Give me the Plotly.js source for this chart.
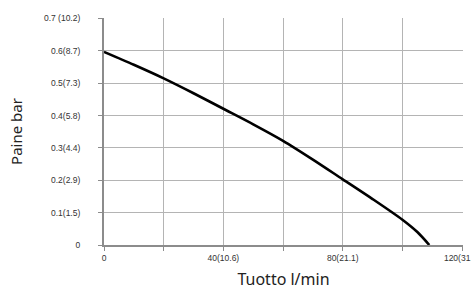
<!DOCTYPE html>
<html><head><meta charset="utf-8">
<script src="https://cdn.plot.ly/plotly-3.0.1.min.js"></script>
<style>html,body{margin:0;padding:0;background:#fff}#c{width:471px;height:291px}</style>
</head><body><div id="c"></div>
<script>
const flow = [0, 10, 20, 30, 40, 50, 60, 70, 80, 90, 100, 105, 109];
const pressure = [0.597, 0.557, 0.515, 0.469, 0.421, 0.373, 0.322, 0.264, 0.203, 0.142, 0.078, 0.04, 0];
const xTickVals = [0, 20, 40, 60, 80, 100, 120];
const xTickText = ['0', '', '40(10.6)', '', '80(21.1)', '', '120(31.7)'];
const yTickVals = [0, 0.1, 0.2, 0.3, 0.4, 0.5, 0.6, 0.7];
const yTickText = ['0', '0.1(1.5)', '0.2(2.9)', '0.3(4.4)', '0.4(5.8)', '0.5(7.3)', '0.6(8.7)', '0.7 (10.2)'];

Plotly.newPlot('c', [{
  x: flow, y: pressure, type: 'scatter', mode: 'lines',
  line: {color: '#000', width: 2.6, shape: 'spline', smoothing: 0.8},
  hoverinfo: 'none', cliponaxis: false
}], {
  width: 471, height: 291,
  margin: {l: 104, r: 8, t: 18, b: 46},
  paper_bgcolor: '#fff', plot_bgcolor: '#fff',
  showlegend: false,
  xaxis: {
    range: [0, 120.3], tickvals: xTickVals, ticktext: xTickText,
    showgrid: true, gridcolor: '#b4b4b4', gridwidth: 1,
    zeroline: false, showline: true, linecolor: '#8c8c8c', linewidth: 2,
    ticks: 'outside', ticklen: 4, tickcolor: '#8c8c8c',
    ticklabeloverflow: 'allow',
    tickfont: {family: 'Liberation Sans, Arial', size: 8.5, color: '#333'},
    title: {text: 'Tuotto l/min', font: {family: 'Noto Sans', size: 16, color: '#222'}, standoff: 12}
  },
  yaxis: {
    range: [0, 0.7015], tickvals: yTickVals, ticktext: yTickText,
    showgrid: true, gridcolor: '#b4b4b4', gridwidth: 1,
    zeroline: false, showline: true, linecolor: '#8c8c8c', linewidth: 2,
    ticks: 'outside', ticklen: 4, tickcolor: '#8c8c8c',
    ticklabelstandoff: 16, ticklabeloverflow: 'allow',
    tickfont: {family: 'Liberation Sans, Arial', size: 8.5, color: '#333'},
    title: {text: 'Paine bar', font: {family: 'Noto Sans', size: 15, color: '#222'}, standoff: 18}
  }
}, {staticPlot: true});
</script></body></html>
